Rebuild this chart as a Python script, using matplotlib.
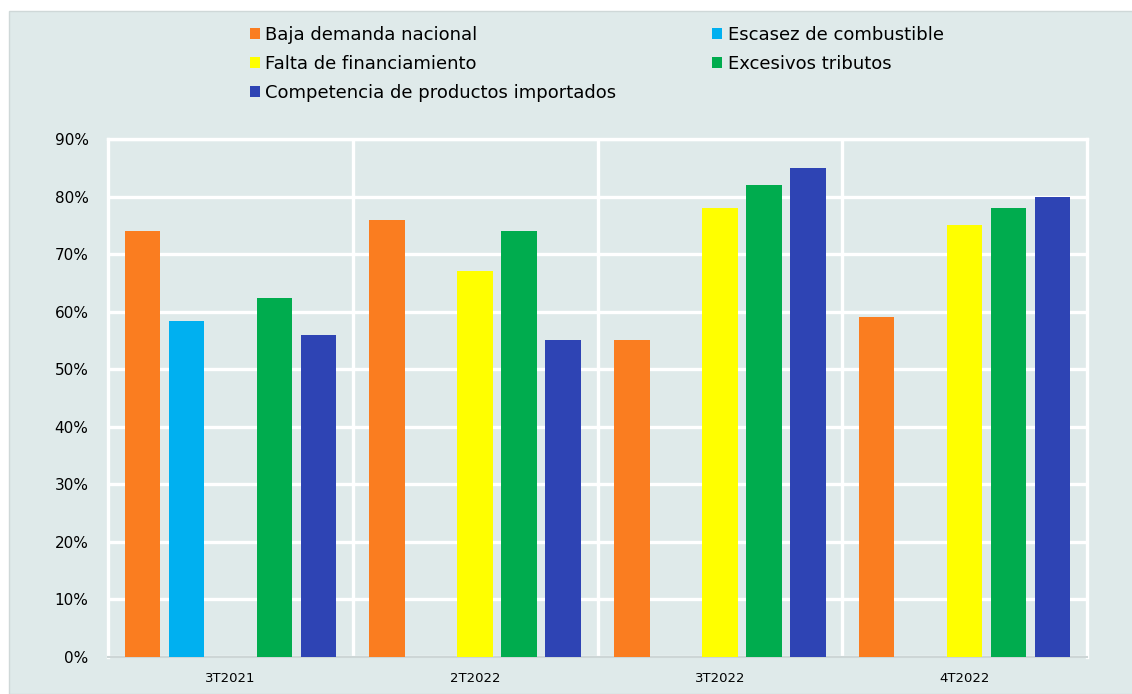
import numpy as np
import matplotlib
matplotlib.use("Agg")
import matplotlib.pyplot as plt
from matplotlib.patches import Rectangle

periods = ["3T2021", "2T2022", "3T2022", "4T2022"]
series_names = ["Baja demanda nacional", "Escasez de combustible", "Falta de financiamiento",
                "Excesivos tributos", "Competencia de productos importados"]
baja_demanda = [74, 76, 55, 59]
escasez_combustible = [58.4, np.nan, np.nan, np.nan]
falta_financiamiento = [np.nan, 67, 78, 75]
excesivos_tributos = [62.3, 74, 82, 78]
competencia_importados = [55.9, 55, 85, 80]
yticks = [0, 10, 20, 30, 40, 50, 60, 70, 80, 90]

colors = ["#FA7D20", "#00B0F0", "#FFFF00", "#00AC4E", "#2E44B4"]
bg = "#DFEAEA"

fig = plt.figure(figsize=(11.32, 6.94), dpi=100)
fig.patch.set_facecolor("white")
fig.patches.append(Rectangle((9 / 1132, 0), 1, 1 - 11 / 694, transform=fig.transFigure,
                             facecolor=bg, edgecolor="#cfd8d8", linewidth=1, zorder=-5))

ax = fig.add_axes([108 / 1132, 1 - 657 / 694, (1087 - 108) / 1132, (657 - 139) / 694])
ax.set_facecolor(bg)

x = np.arange(len(periods))
all_vals = [baja_demanda, escasez_combustible, falta_financiamiento,
            excesivos_tributos, competencia_importados]
handles = []
for i, vals in enumerate(all_vals):
    b = ax.bar(x + (i - 2) * 0.18, vals, width=0.145, color=colors[i], zorder=3,
               label=series_names[i])
    handles.append(b)

ax.set_xlim(-0.5, 3.5)
ax.set_ylim(0, 90)
ax.set_yticks(yticks)
ax.set_yticklabels([f"{v}%" for v in yticks], fontsize=11)
ax.set_xticks(x)
ax.set_xticklabels(periods, fontsize=9.5)
ax.tick_params(length=0)
ax.tick_params(axis="y", pad=14)
ax.tick_params(axis="x", pad=11)

ax.set_xticks([0.5, 1.5, 2.5], minor=True)
ax.tick_params(which="minor", length=0)
ax.grid(axis="y", color="white", linewidth=2.4, zorder=1)
ax.grid(axis="x", which="minor", color="white", linewidth=2.4, zorder=1)
ax.grid(axis="x", which="major", visible=False)
for s in ["left", "right", "top"]:
    ax.spines[s].set_color("white")
    ax.spines[s].set_linewidth(2.4)
ax.spines["bottom"].set_color("#cdd6d6")
ax.spines["bottom"].set_linewidth(1.5)

order = [0, 2, 4, 1, 3]
leg = fig.legend([handles[k] for k in order], [series_names[k] for k in order],
                 loc="upper left", bbox_to_anchor=(250 / 1132, 1 - 26 / 694), ncol=2,
                 frameon=False, fontsize=13, handlelength=0.55, handleheight=0.55,
                 handletextpad=0.3, labelspacing=0.6, columnspacing=5.3, borderaxespad=0,
                 borderpad=0)

fig.savefig("out.png", dpi=100, facecolor=fig.get_facecolor())
